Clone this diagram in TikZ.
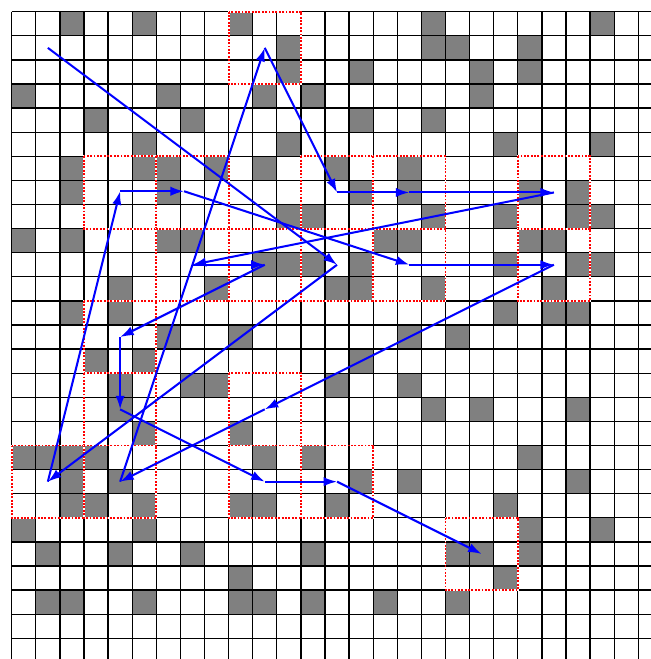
\documentclass[tikz,border=0pt]{standalone}
\usetikzlibrary{arrows.meta}

\begin{document}
\begin{tikzpicture}[x=0.5cm,y=-0.5cm,>=Latex,
  gridline/.style={draw=black,line width=0.8pt},
  greycell/.style={fill=black!50},
  blockbox/.style={draw=red,line width=1.1pt,dash pattern=on 1.1pt off 0.9pt,preaction={draw=white,solid,line width=1.1pt}},
  pathline/.style={draw=blue,line width=1.2pt,-{Latex[length=8pt,width=5.5pt]}}]
\useasboundingbox (-0.4855,-0.4855) rectangle (26.527,26.859);
\clip (-0.4855,-0.4855) rectangle (26.527,26.859);
\fill[white] (-0.4855,-0.4855) rectangle (26.527,26.859);
\foreach \r/\cl in {0/{2,5,9,17,24},1/{11,17,18,21},2/{11,14,19,21},3/{0,6,10,12,19},4/{3,7,14,17},5/{5,11,20,24},6/{2,5,6,8,10,13,16},7/{2,6,14,16,21,23},8/{11,12,17,20,23,24},9/{0,2,6,7,15,16,21,22},10/{10,11,12,14,20,23,24},11/{4,8,13,14,17,22},12/{2,4,20,22,23},13/{6,9,16,18},14/{3,5,14},15/{4,7,8,13,16},16/{4,17,19,23},17/{5,9},18/{0,1,2,3,10,12,21},19/{2,4,14,16,23},20/{2,3,5,9,10,13,20},21/{0,5,21,24},22/{1,4,7,12,18,19,21},23/{9,20},24/{1,2,5,9,10,12,15,18}}
  {\foreach \c in \cl {\fill[greycell] (\c,\r) rectangle ++(1,1);}}
\foreach \i in {0,...,27} {\draw[gridline] (\i,0)--(\i,28); \draw[gridline] (0,\i)--(28,\i);}
\foreach \bc/\br in {3/0,1/2,2/2,4/2,5/2,7/2,2/3,3/3,4/3,5/3,7/3,1/4,1/5,3/5,0/6,1/6,3/6,4/6,6/7}
  {\draw[blockbox] (3*\bc,3*\br) rectangle ++(3,3);}
\coordinate (p01) at (1.5,1.5);
\coordinate (p02) at (13.5,10.5);
\coordinate (p03) at (1.5,19.5);
\coordinate (p04) at (4.5,7.45);
\coordinate (p05) at (7.15,7.45);
\coordinate (p06) at (16.5,10.5);
\coordinate (p07) at (22.5,10.5);
\coordinate (p08) at (10.5,16.5);
\coordinate (p09) at (4.5,19.5);
\coordinate (p10) at (10.5,1.5);
\coordinate (p11) at (13.5,7.5);
\coordinate (p12) at (16.5,7.5);
\coordinate (p13) at (22.5,7.5);
\coordinate (p14) at (7.5,10.5);
\coordinate (p15) at (10.5,10.5);
\coordinate (p16) at (4.5,13.5);
\coordinate (p17) at (4.5,16.5);
\coordinate (p18) at (10.5,19.5);
\coordinate (p19) at (13.5,19.5);
\coordinate (p20) at (19.5,22.5);
\draw[pathline] (p01)--(p02);
\draw[pathline] (p02)--(p03);
\draw[pathline] (p03)--(p04);
\draw[pathline] (p04)--(p05);
\draw[pathline] (p05)--(p06);
\draw[pathline] (p06)--(p07);
\draw[pathline] (p07)--(p08);
\draw[pathline] (p08)--(p09);
\draw[pathline] (p09)--(p10);
\draw[pathline] (p10)--(p11);
\draw[pathline] (p11)--(p12);
\draw[pathline] (p12)--(p13);
\draw[pathline] (p13)--(p14);
\draw[pathline] (p14)--(p15);
\draw[pathline] (p15)--(p16);
\draw[pathline] (p16)--(p17);
\draw[pathline] (p17)--(p18);
\draw[pathline] (p18)--(p19);
\draw[pathline] (p19)--(p20);
\end{tikzpicture}
\end{document}
